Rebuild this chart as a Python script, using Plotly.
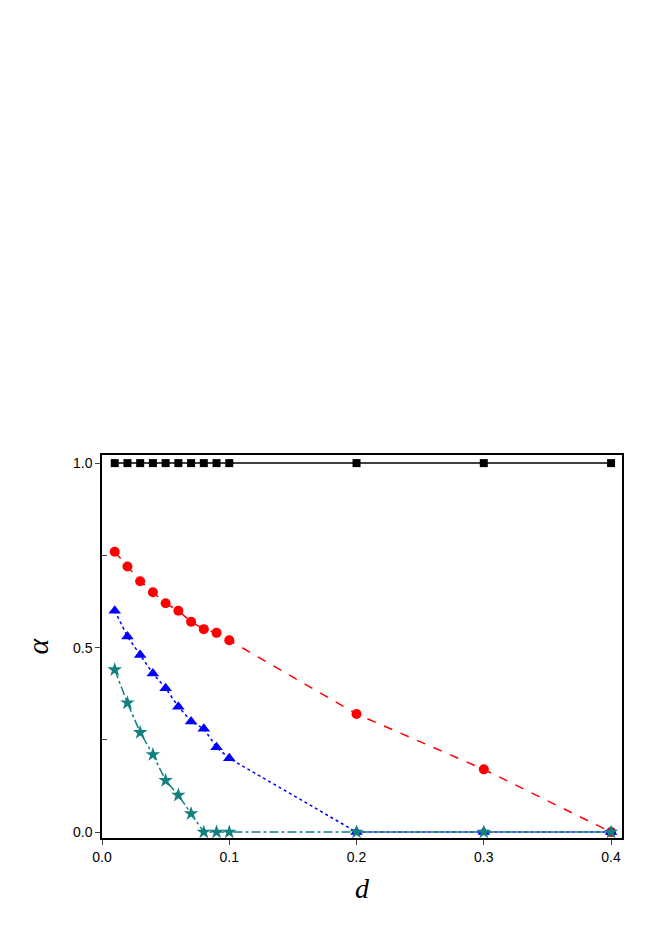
import plotly.graph_objects as go

d = [0.01, 0.02, 0.03, 0.04, 0.05, 0.06, 0.07, 0.08, 0.09, 0.1, 0.2, 0.3, 0.4]
black = [1.0] * 13
red = [0.76, 0.72, 0.68, 0.65, 0.62, 0.60, 0.57, 0.55, 0.54, 0.52, 0.32, 0.17, 0.0]
blue = [0.60, 0.53, 0.48, 0.43, 0.39, 0.34, 0.30, 0.28, 0.23, 0.20, 0.0, 0.0, 0.0]
teal = [0.44, 0.35, 0.27, 0.21, 0.14, 0.10, 0.05, 0.0, 0.0, 0.0, 0.0, 0.0, 0.0]

fig = go.Figure()
series = [
    (black, 'black', 'solid', 'square', 8),
    (red, 'red', 'dash', 'circle', 10),
    (blue, 'blue', 'dot', 'triangle-up', 11),
    (teal, '#138080', 'dashdot', 'star', 11),
]
for y, c, dash, sym, sz in series:
    fig.add_trace(go.Scatter(
        x=d, y=y, mode='lines+markers',
        line=dict(color=c, dash=dash, width=1.5),
        marker=dict(color=c, symbol=sym, size=sz),
    ))

axis = dict(
    showgrid=False, zeroline=False, showline=True, linecolor='black',
    linewidth=1.5, mirror=True, ticks='outside', ticklen=5,
    tickfont=dict(family='Liberation Sans', size=14, color='black'),
)
fig.update_xaxes(range=[0, 0.4086], tickvals=[0, 0.1, 0.2, 0.3, 0.4],
                 tickformat='.1f',
                 title=dict(text='d', font=dict(family='Liberation Serif', size=28,
                                                style='italic', color='black')),
                 **axis)
fig.update_yaxes(range=[-0.016, 1.022], tickvals=[0, 0.5, 1.0], tickformat='.1f',
                 minor=dict(tickvals=[0.25, 0.75], ticks='inside', ticklen=5),
                 title=dict(text='α', font=dict(family='Liberation Serif', size=30,
                                                style='italic', color='black'),
                            standoff=15),
                 **axis)
fig.update_layout(
    width=664, height=940, showlegend=False,
    plot_bgcolor='white', paper_bgcolor='white',
    margin=dict(l=94, r=50, t=447, b=110),
)
fig.write_html("out.html")
